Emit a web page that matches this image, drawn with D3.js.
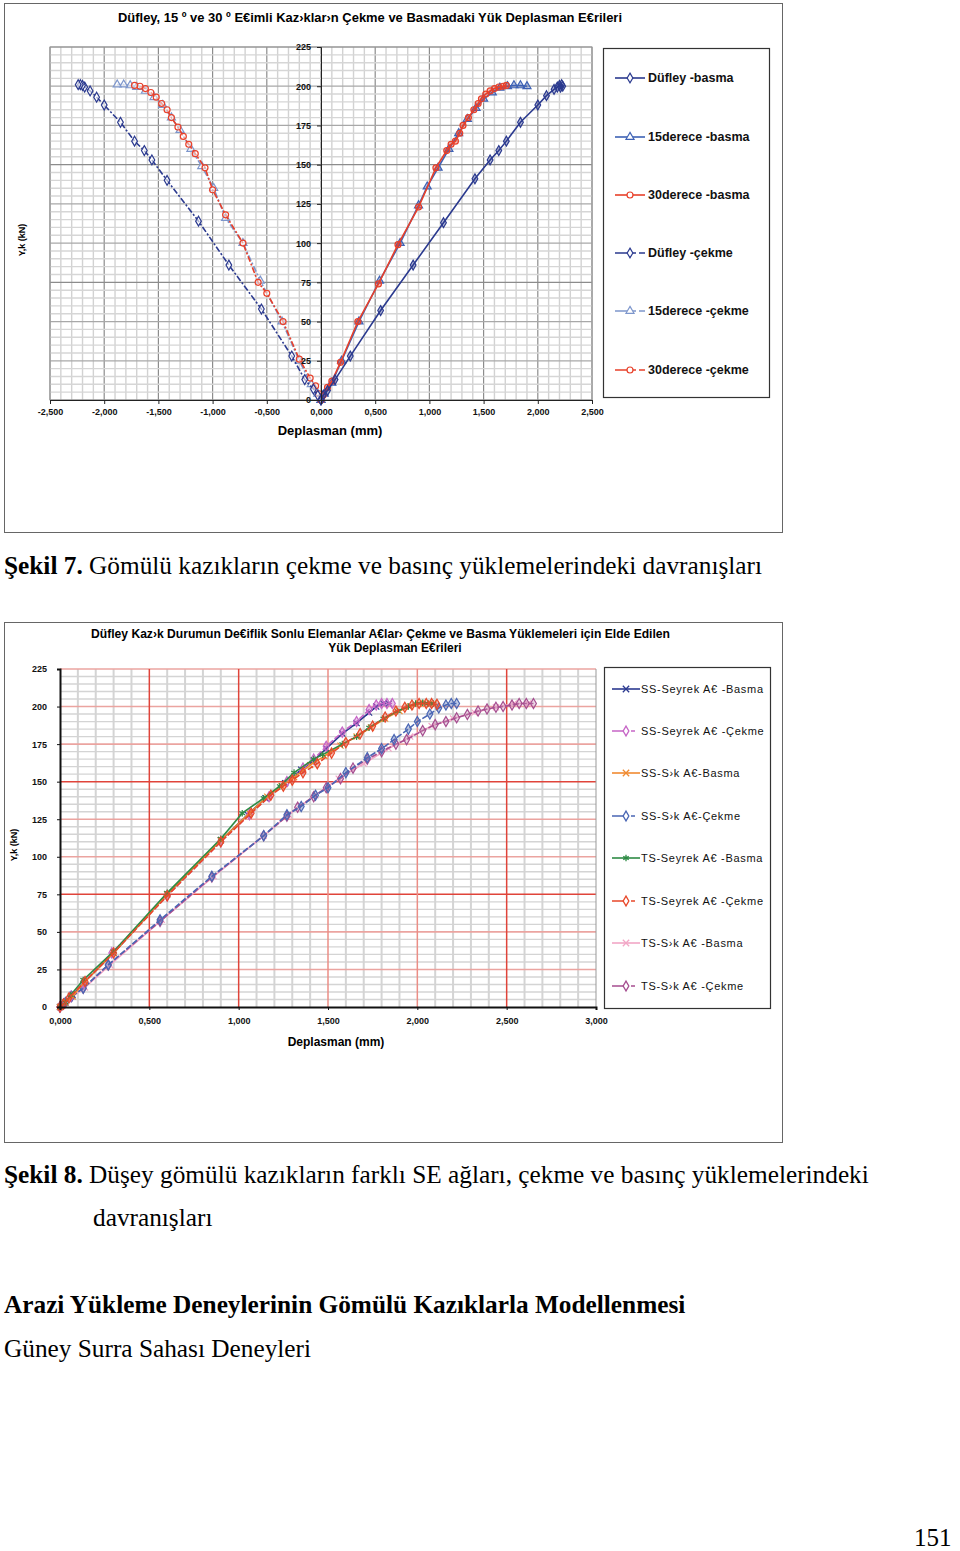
<!DOCTYPE html>
<html><head><meta charset="utf-8">
<script src="https://cdn.jsdelivr.net/npm/d3@7"></script>
<style>
body{margin:0;background:#fff;}
svg{display:block;}
</style></head>
<body><svg id="c" width="960" height="1551"></svg>
<script>
// ---------------- DATA : chart 1 ----------------
const topTitle = "Düfley, 15 º ve 30 º E€imli Kaz›klar›n Çekme ve Basmadaki Yük Deplasman E€rileri";
const topXTicks = [-2.5,-2,-1.5,-1,-0.5,0,0.5,1,1.5,2,2.5];
const topYTicks = [0,25,50,75,100,125,150,175,200,225];
const topNames = ["Düfley -basma","15derece -basma","30derece -basma","Düfley -çekme","15derece -çekme","30derece -çekme"];

const dufleyBasmaX = [0,0.02,0.06,0.13,0.27,0.55,0.85,1.13,1.42,1.56,1.64,1.71,1.84,2.00,2.08,2.15,2.18,2.20,2.22,2.23,2.21];
const dufleyBasmaY = [0,3,6,13,28,57,86,113,141,153,159,165,177,188,194,198,199.5,200.5,201,200,199.5];
const onbesBasmaX = [0,0.03,0.10,0.19,0.35,0.54,0.73,0.90,0.98,1.08,1.18,1.27,1.35,1.43,1.50,1.58,1.65,1.72,1.78,1.84,1.90];
const onbesBasmaY = [0,4,11,25,50,76,100,124,136,148,160,170,179,186,192,196,199,200,200.5,200.5,200];
const otuzBasmaX = [0,0.02,0.06,0.10,0.18,0.34,0.53,0.71,0.90,1.06,1.16,1.20,1.24,1.28,1.31,1.36,1.41,1.45,1.48,1.52,1.56,1.60,1.64,1.68,1.71];
const otuzBasmaY = [0,3,8,12,24,50,74,99,123,148,159,163,165,170,175,180,185,189,192,195,197,198.5,199.5,200,200.5];
const dufleyCekmeX = [0,-0.03,-0.07,-0.15,-0.27,-0.55,-0.85,-1.13,-1.42,-1.56,-1.63,-1.72,-1.85,-2.00,-2.07,-2.13,-2.18,-2.20,-2.22,-2.24];
const dufleyCekmeY = [0,3,7,13,28,58,86,114,140,153,159,165,177,188,193,197,199.5,200.5,201,201];
const onbesCekmeX = [0,-0.03,-0.09,-0.20,-0.36,-0.56,-0.72,-0.88,-0.99,-1.10,-1.20,-1.30,-1.38,-1.46,-1.54,-1.62,-1.70,-1.76,-1.82,-1.88];
const onbesCekmeY = [0,4,10,25,50,76,100,116,135,149,160,172,180,188,193,197,199.5,200.5,201,201];
const otuzCekmeX = [0,-0.02,-0.05,-0.10,-0.20,-0.35,-0.50,-0.58,-0.72,-0.88,-1.00,-1.07,-1.16,-1.22,-1.27,-1.32,-1.38,-1.42,-1.47,-1.52,-1.57,-1.62,-1.67,-1.72];
const otuzCekmeY = [0,4,9,14,26,50,68,75,100,118,134,148,157,163,168,174,180,185,189,193,196,198.5,200,200.5];

// ---------------- DATA : chart 2 ----------------
const botTitle1 = "Düfley Kaz›k Durumun De€iflik Sonlu Elemanlar A€lar› Çekme ve Basma Yüklemeleri  için Elde Edilen";
const botTitle2 = "Yük Deplasman E€rileri";
const botXTicks = [0,0.5,1,1.5,2,2.5,3];
const botYTicks = [0,25,50,75,100,125,150,175,200,225];
const botNames = ["SS-Seyrek A€ -Basma","SS-Seyrek A€ -Çekme","SS-S›k A€-Basma","SS-S›k A€-Çekme","TS-Seyrek A€ -Basma","TS-Seyrek A€ -Çekme","TS-S›k A€ -Basma","TS-S›k A€ -Çekme"];

const ssSeyrekBasmaX = [0,0.03,0.07,0.14,0.30,0.60,0.90,1.05,1.15,1.26,1.35,1.42,1.49,1.58,1.66,1.73,1.77,1.81,1.84];
const ssSeyrekBasmaY = [0,3,8,17,36,75,111,128,139,149,158,164,172,182,189,196,200,202,202];
const ssSeyrekCekmeX = [0,0.02,0.06,0.13,0.29,0.60,0.90,1.06,1.17,1.27,1.36,1.42,1.49,1.58,1.66,1.73,1.77,1.80,1.83,1.86];
const ssSeyrekCekmeY = [0,2,7,16,36,74,110,128,140,150,159,165,173.5,183,190,198,201,202,202,202];
const ssSikBasmaX = [0,0.03,0.07,0.14,0.30,0.60,0.90,1.06,1.16,1.24,1.31,1.40,1.48,1.57,1.66,1.74,1.82,1.90,1.96,2.01,2.05,2.09];
const ssSikBasmaY = [0,3,7,17,36,75,111,129,140,147,153,161,167,174,180,186,192,197,200,202,202,202];
const ssSikCekmeX = [0,0.03,0.065,0.13,0.27,0.56,0.85,1.14,1.27,1.35,1.43,1.50,1.60,1.72,1.80,1.87,1.95,2.00,2.07,2.12,2.16,2.19,2.22];
const ssSikCekmeY = [0,3,7,12.5,28,58,87,114,128,133.5,141,146,156,166,172,178,185,190,195,199,201,202,202];
const tsSeyrekBasmaX = [0,0.03,0.06,0.13,0.30,0.60,0.90,1.02,1.14,1.23,1.31,1.42,1.47,1.58,1.66,1.73,1.81,1.89,1.95,1.99,2.03,2.06,2.09];
const tsSeyrekBasmaY = [0,3,8,18,37,76,112,129,139,147,156,165,168,175,180,186,192,197,200,202,202.5,202,202];
const tsSeyrekCekmeX = [0,0.02,0.05,0.14,0.30,0.60,0.90,1.07,1.18,1.25,1.30,1.36,1.44,1.52,1.60,1.68,1.75,1.82,1.88,1.93,1.97,2.01,2.05,2.08,2.11];
const tsSeyrekCekmeY = [0,2,6,17,36,74,110,129,141,147,151,156,162,169,176,182,187,193,197,199.5,201,202,202,202,201.5];
const tsSikBasmaX = [0,0.03,0.07,0.14,0.28,0.57,0.86,1.14,1.28,1.43,1.56,1.70,1.84,1.96,2.08,2.20,2.32,2.44,2.54,2.62];
const tsSikBasmaY = [0,3,7,13,28,58,87,114,128,141,152,162,172,180,187,192,196,199.5,202,202];
const tsSikCekmeX = [0,0.02,0.065,0.13,0.27,0.56,0.85,1.14,1.27,1.33,1.42,1.49,1.57,1.64,1.72,1.80,1.88,1.94,2.03,2.10,2.16,2.22,2.28,2.34,2.39,2.44,2.48,2.53,2.57,2.61,2.65];
const tsSikCekmeY = [0,2,7,12.5,28,57,86.5,114,127,133,140,146,152,159,165,170,175,178,184,188,190,192.5,194.7,197,198.4,199.5,200,201,202,202,202];

// ---------------- helpers ----------------
const svg = d3.select("#c");
const fmt = v => (v < 0 ? "-" : "") + Math.abs(v).toFixed(3).replace(".", ",");
const zip = (xs, ys) => xs.map((x, i) => ({x, y: ys[i]}));
const SANS = "Liberation Sans, Arial, sans-serif";
const SERIF = "Liberation Serif, Times New Roman, serif";

function drawSeries(g, xS, yS, pts, s) {
  const line = d3.line().x(d => xS(d.x)).y(d => yS(d.y));
  g.append("path").attr("d", line(pts)).attr("fill", "none")
    .attr("stroke", s.color).attr("stroke-width", s.w || 1.6)
    .attr("stroke-dasharray", s.dash || null);
  const sym = d3.symbol().type(s.sym).size(s.size || 28);
  g.selectAll(null).data(pts).enter().append("path")
    .attr("d", sym)
    .attr("transform", d => `translate(${xS(d.x)},${yS(d.y)})`)
    .attr("fill", s.fill || "none").attr("fill-opacity", s.fo == null ? 0.35 : s.fo)
    .attr("stroke", s.color).attr("stroke-width", 1.2);
}

// ---------------- frames ----------------
svg.append("rect").attr("x", 4.5).attr("y", 3.5).attr("width", 778).attr("height", 529)
  .attr("fill", "none").attr("stroke", "#666").attr("stroke-width", 1);
svg.append("rect").attr("x", 4.5).attr("y", 622.5).attr("width", 778).attr("height", 520)
  .attr("fill", "none").attr("stroke", "#666").attr("stroke-width", 1);

// ================= CHART 1 =================
{
  const L = 50, R = 592, T = 47, B = 400;
  const x = d3.scaleLinear().domain([-2.5, 2.5]).range([L, R]);
  const y = d3.scaleLinear().domain([0, 225]).range([B, T]);
  const g = svg.append("g");
  d3.range(-25, 26).forEach(i => {
    const v = i / 10, major = i % 5 === 0;
    g.append("line").attr("x1", x(v)).attr("x2", x(v)).attr("y1", T).attr("y2", B)
      .attr("stroke", major ? "#8c8c8c" : "#d2d2d2").attr("stroke-width", major ? 1.2 : 1.4);
  });
  d3.range(0, 46).forEach(i => {
    const v = i * 5, major = v % 25 === 0, big = v % 75 === 0;
    g.append("line").attr("x1", L).attr("x2", R).attr("y1", y(v)).attr("y2", y(v))
      .attr("stroke", big ? "#8c8c8c" : major ? "#a8a8a8" : "#d6d6d6").attr("stroke-width", major ? 1.2 : 1.4);
  });
  g.append("rect").attr("x", L).attr("y", T).attr("width", R - L).attr("height", B - T)
    .attr("fill", "none").attr("stroke", "#999");

  const styles = [
    {color: "#7D96CC", sym: d3.symbolTriangle, dash: "6,2,2,2", fill: "#fff", fo: 0.6},
    {color: "#3E62B5", sym: d3.symbolTriangle, fill: "#3E62B5"},
    {color: "#E8402A", sym: d3.symbolCircle, dash: "6,2,2,2", fill: "#fff", fo: 0.5},
    {color: "#E8402A", sym: d3.symbolCircle, fill: "#E8402A"},
    {color: "#2B3A8F", sym: d3.symbolDiamond, dash: "6,2,2,2", fill: "#fff", fo: 0.6},
    {color: "#2B3A8F", sym: d3.symbolDiamond, fill: "#2B3A8F"}
  ];
  const sets = [zip(onbesCekmeX, onbesCekmeY), zip(onbesBasmaX, onbesBasmaY), zip(otuzCekmeX, otuzCekmeY),
                zip(otuzBasmaX, otuzBasmaY), zip(dufleyCekmeX, dufleyCekmeY), zip(dufleyBasmaX, dufleyBasmaY)];
  sets.forEach((pts, i) => drawSeries(g, x, y, pts, styles[i]));

  const ya = g.append("g").attr("transform", `translate(${x(0)},0)`)
    .call(d3.axisLeft(y).tickValues(topYTicks).tickSize(4).tickPadding(6));
  const xa = g.append("g").attr("transform", `translate(0,${B})`)
    .call(d3.axisBottom(x).tickValues(topXTicks).tickFormat(fmt).tickSize(4).tickPadding(5));
  [ya, xa].forEach(a => {
    a.selectAll("text").attr("font-family", SANS).attr("font-weight", "bold").attr("font-size", 9).attr("fill", "#111");
    a.select(".domain").attr("stroke", "#222");
    a.selectAll(".tick line").attr("stroke", "#222");
  });

  svg.append("text").attr("x", 118).attr("y", 22).attr("textLength", 504).attr("lengthAdjust", "spacingAndGlyphs")
    .attr("font-family", SANS).attr("font-weight", "bold").attr("font-size", 12).text(topTitle);
  svg.append("text").attr("x", 330).attr("y", 435).attr("text-anchor", "middle")
    .attr("font-family", SANS).attr("font-weight", "bold").attr("font-size", 13).text("Deplasman (mm)");
  svg.append("text").attr("transform", "translate(25,240) rotate(-90)").attr("text-anchor", "middle")
    .attr("font-family", SANS).attr("font-weight", "bold").attr("font-size", 9).text("Y,k (kN)");

  svg.append("rect").attr("x", 603.5).attr("y", 48.5).attr("width", 166).attr("height", 349)
    .attr("fill", "#fff").attr("stroke", "#333").attr("stroke-width", 1.2);
  const legStyles = [styles[5], styles[1], styles[3], styles[4], styles[0], styles[2]];
  const legY = [78, 137, 195, 253, 311, 370];
  topNames.forEach((n, i) => {
    const s = legStyles[i], yy = legY[i];
    svg.append("line").attr("x1", 615).attr("x2", 645).attr("y1", yy).attr("y2", yy)
      .attr("stroke", s.color).attr("stroke-width", 1.6).attr("stroke-dasharray", s.dash ? "14,3,4,3" : null);
    svg.append("path").attr("d", d3.symbol().type(s.sym).size(28)())
      .attr("transform", `translate(630,${yy})`).attr("fill", "#fff").attr("stroke", s.color).attr("stroke-width", 1.2);
    svg.append("text").attr("x", 648).attr("y", yy + 4).attr("font-family", SANS).attr("font-weight", "bold")
      .attr("font-size", 12.5).attr("fill", "#111").text(n);
  });
}

// ================= CHART 2 =================
{
  const L = 60, R = 596, T = 669, B = 1007;
  const x = d3.scaleLinear().domain([0, 3]).range([L, R]);
  const y = d3.scaleLinear().domain([0, 225]).range([B, T]);
  const g = svg.append("g");
  d3.range(0, 31).forEach(i => {
    const v = i / 10;
    if (i % 5 !== 0) g.append("line").attr("x1", x(v)).attr("x2", x(v)).attr("y1", T).attr("y2", B)
      .attr("stroke", "#d4d4d4").attr("stroke-width", 2);
  });
  d3.range(0, 46).forEach(i => {
    const v = i * 5;
    if (v % 25 !== 0) g.append("line").attr("x1", L).attr("x2", R).attr("y1", y(v)).attr("y2", y(v))
      .attr("stroke", "#d4d4d4").attr("stroke-width", 1.4);
  });
  [25, 50, 100, 125, 175, 200, 225].forEach(v => g.append("line").attr("x1", L).attr("x2", R)
    .attr("y1", y(v)).attr("y2", y(v)).attr("stroke", "#EBA4A0").attr("stroke-width", 1.6));
  [75, 150].forEach(v => g.append("line").attr("x1", L).attr("x2", R)
    .attr("y1", y(v)).attr("y2", y(v)).attr("stroke", "#E0443A").attr("stroke-width", 1.5));
  [[0.5, "#E0443A"], [1, "#E0443A"], [1.5, "#EB8E86"], [2, "#EB8E86"], [2.5, "#E0443A"]].forEach(([v, c]) =>
    g.append("line").attr("x1", x(v)).attr("x2", x(v)).attr("y1", T).attr("y2", B).attr("stroke", c).attr("stroke-width", 1.5));
  g.append("line").attr("x1", R).attr("x2", R).attr("y1", T).attr("y2", B).attr("stroke", "#999");

  const st = {
    ssSB: {color: "#2B3990", sym: d3.symbolTimes, size: 26},
    ssSC: {color: "#C665C6", sym: d3.symbolDiamond, dash: "6,2", fill: "#C665C6", size: 30},
    ssKB: {color: "#F08A30", sym: d3.symbolTimes, size: 26},
    ssKC: {color: "#4A66B4", sym: d3.symbolDiamond, dash: "6,2", fill: "#4A66B4", size: 30},
    tsSB: {color: "#2E8B45", sym: d3.symbolAsterisk, size: 30},
    tsSC: {color: "#E8482A", sym: d3.symbolDiamond, dash: "6,2", fill: "#E8482A", size: 30},
    tsKB: {color: "#F2A6C6", sym: d3.symbolTimes, size: 26},
    tsKC: {color: "#A64E90", sym: d3.symbolDiamond, dash: "6,2", fill: "#C890B8", size: 30}
  };
  const order = [
    [tsSikBasmaX, tsSikBasmaY, st.tsKB], [tsSikCekmeX, tsSikCekmeY, st.tsKC],
    [ssSikCekmeX, ssSikCekmeY, st.ssKC], [ssSeyrekBasmaX, ssSeyrekBasmaY, st.ssSB],
    [ssSeyrekCekmeX, ssSeyrekCekmeY, st.ssSC], [ssSikBasmaX, ssSikBasmaY, st.ssKB],
    [tsSeyrekBasmaX, tsSeyrekBasmaY, st.tsSB], [tsSeyrekCekmeX, tsSeyrekCekmeY, st.tsSC]
  ];
  order.forEach(([xs, ys, s]) => drawSeries(g, x, y, zip(xs, ys), s));

  const ya = g.append("g").attr("transform", `translate(${L},0)`)
    .call(d3.axisLeft(y).tickValues(botYTicks).tickSize(3).tickPadding(10));
  const xa = g.append("g").attr("transform", `translate(0,${B})`)
    .call(d3.axisBottom(x).tickValues(botXTicks).tickFormat(fmt).tickSize(3).tickPadding(8));
  [ya, xa].forEach(a => {
    a.selectAll("text").attr("font-family", SANS).attr("font-weight", "bold").attr("font-size", 9).attr("fill", "#111");
    a.select(".domain").attr("stroke", "#111").attr("stroke-width", 2);
    a.selectAll(".tick line").attr("stroke", "#111");
  });

  svg.append("text").attr("x", 91).attr("y", 638).attr("textLength", 579).attr("lengthAdjust", "spacingAndGlyphs")
    .attr("font-family", SANS).attr("font-weight", "bold").attr("font-size", 12).text(botTitle1);
  svg.append("text").attr("x", 395).attr("y", 652).attr("text-anchor", "middle")
    .attr("font-family", SANS).attr("font-weight", "bold").attr("font-size", 12).text(botTitle2);
  svg.append("text").attr("x", 336).attr("y", 1046).attr("text-anchor", "middle")
    .attr("font-family", SANS).attr("font-weight", "bold").attr("font-size", 12).text("Deplasman (mm)");
  svg.append("text").attr("transform", "translate(17,845) rotate(-90)").attr("text-anchor", "middle")
    .attr("font-family", SANS).attr("font-weight", "bold").attr("font-size", 9).text("Y,k (kN)");

  svg.append("rect").attr("x", 604.5).attr("y", 667.5).attr("width", 166).attr("height", 341)
    .attr("fill", "#fff").attr("stroke", "#333").attr("stroke-width", 1.2);
  const legS = [st.ssSB, st.ssSC, st.ssKB, st.ssKC, st.tsSB, st.tsSC, st.tsKB, st.tsKC];
  const legY = [689, 731, 773, 816, 858, 901, 943, 986];
  botNames.forEach((n, i) => {
    const s = legS[i], yy = legY[i];
    svg.append("line").attr("x1", 612).attr("x2", 640).attr("y1", yy).attr("y2", yy)
      .attr("stroke", s.color).attr("stroke-width", 1.6).attr("stroke-dasharray", s.dash ? "16,3,4,5" : null);
    svg.append("path").attr("d", d3.symbol().type(s.sym).size(28)())
      .attr("transform", `translate(626,${yy})`).attr("fill", "#fff").attr("stroke", s.color).attr("stroke-width", 1.3);
    svg.append("text").attr("x", 641).attr("y", yy + 4).attr("font-family", SANS)
      .attr("font-size", 11).attr("letter-spacing", 0.7).attr("fill", "#111").text(n);
  });
}

// ================= captions =================
function caption(xp, yp, parts, size) {
  const t = svg.append("text").attr("x", xp).attr("y", yp).attr("font-family", SERIF).attr("font-size", size).attr("fill", "#000");
  parts.forEach(([s, b]) => t.append("tspan").attr("font-weight", b ? "bold" : "normal").text(s));
}
caption(4, 574, [["Şekil 7.", true], [" Gömülü kazıkların çekme ve basınç yüklemelerindeki davranışları", false]], 25.3);
caption(4, 1183, [["Şekil 8.", true], [" Düşey gömülü kazıkların farklı SE ağları, çekme ve basınç yüklemelerindeki", false]], 25.3);
caption(93, 1226, [["davranışları", false]], 25.3);
caption(4, 1313, [["Arazi Yükleme Deneylerinin Gömülü Kazıklarla Modellenmesi", true]], 25.3);
caption(4, 1357, [["Güney Surra Sahası Deneyleri", false]], 25.3);
caption(914, 1546, [["151", false]], 25);
</script></body></html>
